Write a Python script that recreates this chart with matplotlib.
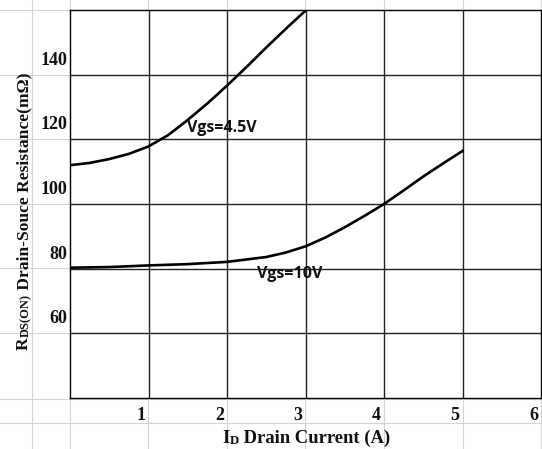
import matplotlib
matplotlib.use("Agg")
import matplotlib.pyplot as plt
from matplotlib.lines import Line2D

# lecturas del grafico (corriente de drenador en A, resistencia en mOhm)
i_45 = [0, 0.25, 0.5, 0.75, 1, 1.25, 1.5, 1.75, 2, 2.25, 2.5, 2.75, 3]
r_45 = [112, 112.7, 113.9, 115.5, 117.8, 121.3, 126.0, 131.1, 136.6, 142.4, 148.4, 154.2, 159.8]

i_10 = [0, 0.5, 1, 1.5, 2, 2.5, 2.75, 3, 3.25, 3.5, 3.75, 4, 4.25, 4.5, 4.75, 5]
r_10 = [80.3, 80.5, 81.0, 81.4, 82.1, 83.6, 85.0, 86.9, 89.6, 92.8, 96.3, 100.0, 104.2, 108.5, 112.5, 116.4]

x_ticks = [1, 2, 3, 4, 5, 6]
y_ticks = [60, 80, 100, 120, 140]

W, H = 542, 449
fig = plt.figure(figsize=(W / 100, H / 100), dpi=100)
fig.patch.set_facecolor("white")

# rejilla tenue de la hoja de calculo detras del grafico
faint = "#d4d4d4"
for px in [32, 70, 148, 227, 305, 384, 463, 541]:
    fig.add_artist(Line2D([px / W, px / W], [0, 1], color=faint, lw=0.8, zorder=-5))
for py in [10, 75, 139, 204, 268, 333, 399, 423]:
    fig.add_artist(Line2D([0, 1], [1 - py / H, 1 - py / H], color=faint, lw=0.8, zorder=-5))

ax = fig.add_axes([70 / W, 1 - 398 / H, (541 - 70) / W, (398 - 10) / H])
ax.set_facecolor("white")
ax.set_xlim(0, 6)
ax.set_ylim(40, 160)

for x in x_ticks[:-1]:
    ax.axvline(x, color="#222222", lw=1.0, zorder=1)
for y in y_ticks:
    ax.axhline(y, color="#222222", lw=1.0, zorder=1)
for s in ax.spines.values():
    s.set_color("black")
    s.set_linewidth(1.0)

ax.plot(i_45, r_45, color="black", lw=1.9, zorder=3, solid_joinstyle="round")
ax.plot(i_10, r_10, color="black", lw=1.9, zorder=3, solid_joinstyle="round")

lab = dict(fontsize=11.5, fontweight="bold", family="Open Sans", color="#111111",
           ha="center", va="center", zorder=4)
ax.text(1.94, 123.4, "Vgs=4.5V", **lab)
ax.text(2.80, 78.4, "Vgs=10V", **lab)

ax.set_xticks([])
ax.set_yticks([])
tk = dict(fontsize=13, fontweight="bold", family="Liberation Serif", color="#111111")
for x in x_ticks:
    ax.annotate(str(x), xy=(x, 40), xycoords="data", xytext=(-3, -9),
                textcoords="offset pixels", ha="right", va="top", **tk)
for y in y_ticks:
    ax.annotate(str(y), xy=(0, y), xycoords="data", xytext=(-3, 6),
                textcoords="offset pixels", ha="right", va="bottom", **tk)

# etiquetas de ejes con subindice en letra pequena
xbig = dict(fontsize=13.4, fontweight="bold", family="Liberation Serif", color="#111111")
xsmall = dict(fontsize=9.3, fontweight="bold", family="Liberation Serif", color="#111111")
t0 = fig.text(222 / W, 6 / H, "I", ha="left", va="baseline", **xbig)
t1 = ax.annotate("D", xy=(1, 0), xycoords=t0, ha="left", va="bottom", **xsmall)
ax.annotate(" Drain Current (A)", xy=(1, 0), xycoords=t1, ha="left", va="bottom", **xbig)

ybig = dict(fontsize=12.6, fontweight="bold", family="Liberation Serif", color="#111111")
ysmall = dict(fontsize=9, fontweight="bold", family="Liberation Serif", color="#111111")
y0 = fig.text(28 / W, 1 - 350 / H, "R", rotation=90, rotation_mode="anchor",
              ha="left", va="baseline", **ybig)
y1 = ax.annotate("DS(ON)", xy=(1, 1), xycoords=y0, rotation=90, ha="right", va="bottom", **ysmall)
ax.annotate(" Drain-Souce Resistance(mΩ)", xy=(1, 1), xycoords=y1, rotation=90,
            ha="right", va="bottom", **ybig)

fig.savefig("out.png", dpi=100)
